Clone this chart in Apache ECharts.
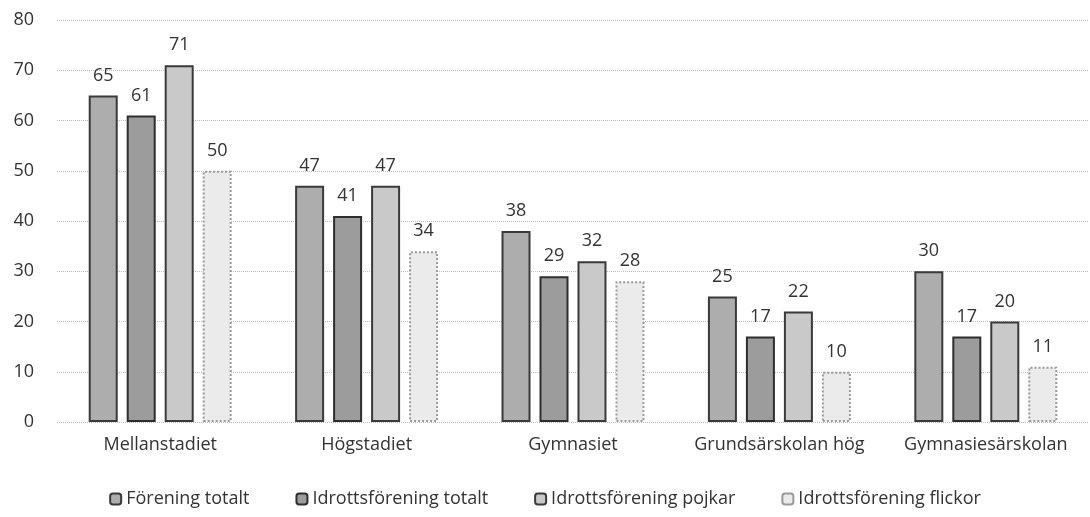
<!DOCTYPE html>
<html><head><meta charset="utf-8">
<script src="https://cdn.jsdelivr.net/npm/echarts@6/dist/echarts.min.js"></script>
<style>html,body{margin:0;padding:0;background:#fff}#c{width:1090px;height:517px}</style>
</head><body><div id="c"></div>
<script>
const categories = ['Mellanstadiet','Högstadiet','Gymnasiet','Grundsärskolan hög','Gymnasiesärskolan'];
const seriesNames = ['Förening totalt','Idrottsförening totalt','Idrottsförening pojkar','Idrottsförening flickor'];
const foreningTotalt = [65,47,38,25,30];
const idrottTotalt = [61,41,29,17,17];
const idrottPojkar = [71,47,32,22,20];
const idrottFlickor = [50,34,28,10,11];
const yTicks = [0,10,20,30,40,50,60,70,80];

const fills = ['#adadad','#9c9c9c','#c9c9c9','#ebebeb'];
const borders = ['#3a3a3a','#2e2e2e','#3a3a3a','#9a9a9a'];
const data = [foreningTotalt, idrottTotalt, idrottPojkar, idrottFlickor];
const font = '"Open Sans", "Noto Sans", sans-serif';

const chart = echarts.init(document.getElementById('c'));
chart.setOption({
  animation:false,
  backgroundColor:'#fff',
  textStyle:{fontFamily:font},
  grid:{left:57,right:1,top:20,bottom:95},
  legend:{
    bottom:4,left:'center',itemWidth:11,itemHeight:11,itemGap:46,
    textStyle:{fontSize:18,color:'#333',fontFamily:font},
    data:seriesNames
  },
  xAxis:{
    type:'category',data:categories,
    axisLine:{show:false},axisTick:{show:false},
    axisLabel:{interval:0,fontSize:18,color:'#333',margin:14,fontFamily:font}
  },
  yAxis:{
    type:'value',min:yTicks[0],max:yTicks[yTicks.length-1],interval:10,
    axisLine:{show:false},axisTick:{show:false},
    axisLabel:{fontSize:18,color:'#333',margin:23,fontFamily:font},
    splitLine:{lineStyle:{color:'#bbb',type:'dotted',width:1}}
  },
  series: seriesNames.map((n,i)=>({
    name:n,type:'bar',data:data[i],
    barWidth:29,barGap:'31%',
    itemStyle:{color:fills[i],borderColor:borders[i],borderWidth:2,borderType:i===3?'dotted':'solid'},
    label:{show:true,position:'top',distance:11,fontSize:18,color:'#333',fontFamily:font}
  }))
});
</script></body></html>
